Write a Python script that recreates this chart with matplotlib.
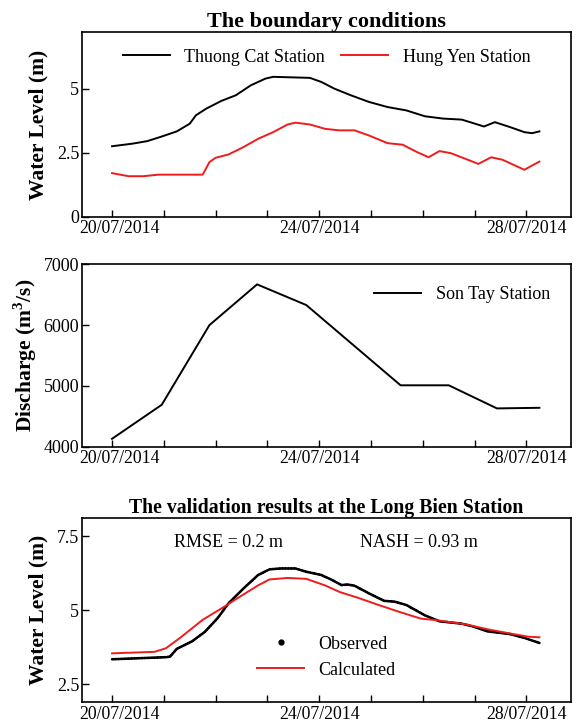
import matplotlib
matplotlib.use('Agg')
import matplotlib.pyplot as plt
import matplotlib.transforms as mtransforms
from matplotlib.lines import Line2D
import numpy as np

plt.rcParams['font.family'] = ['Liberation Serif', 'DejaVu Serif']
plt.rcParams['mathtext.fontset'] = 'custom'
plt.rcParams['mathtext.rm'] = 'Liberation Serif'
plt.rcParams['mathtext.bf'] = 'Liberation Serif:bold'

# x values are days after 20/07/2014 00:00
date_ticks = [0, 4, 8]
date_labels = ['20/07/2014', '24/07/2014', '28/07/2014']

# boundary conditions - water level (m)
tc_day = [0, 0.39, 0.68, 0.96, 1.25, 1.5, 1.62, 1.82, 2.11, 2.39, 2.68, 2.96, 3.11,
          3.82, 4.04, 4.29, 4.61, 4.96, 5.32, 5.68, 6.04, 6.39, 6.75, 6.96, 7.18,
          7.39, 7.68, 7.96, 8.11, 8.25]
tc_level = [2.75, 2.85, 2.95, 3.13, 3.33, 3.63, 3.96, 4.22, 4.52, 4.74, 5.13, 5.39, 5.46,
            5.42, 5.26, 5.0, 4.74, 4.48, 4.28, 4.15, 3.92, 3.83, 3.79, 3.66, 3.52,
            3.69, 3.5, 3.3, 3.26, 3.33]

hy_day = [0, 0.32, 0.61, 0.89, 1.75, 1.88, 2.0, 2.25, 2.54, 2.82, 3.11, 3.39, 3.54,
          3.82, 4.11, 4.39, 4.68, 4.96, 5.32, 5.61, 5.89, 6.11, 6.32, 6.54, 6.82,
          7.07, 7.32, 7.54, 7.96, 8.11, 8.25]
hy_level = [1.70, 1.58, 1.58, 1.64, 1.64, 2.13, 2.30, 2.43, 2.72, 3.04, 3.30, 3.60, 3.67,
            3.60, 3.43, 3.37, 3.37, 3.17, 2.87, 2.81, 2.52, 2.32, 2.56, 2.48, 2.26,
            2.06, 2.32, 2.22, 1.83, 2.0, 2.15]

# boundary conditions - discharge (m3/s)
st_day = [0, 0.96, 1.88, 2.8, 3.75, 5.57, 6.5, 7.43, 8.25]
st_q = [4130, 4690, 6000, 6670, 6330, 5010, 5010, 4630, 4640]

# validation at Long Bien
obs_day = [0, 1.04, 1.12, 1.25, 1.54, 1.79, 2.04, 2.25, 2.54, 2.82, 3.04, 3.25, 3.54,
           3.75, 4.04, 4.25, 4.43, 4.54, 4.68, 4.96, 5.25, 5.46, 5.68, 6.04, 6.32,
           6.75, 6.96, 7.25, 7.68, 7.96, 8.25]
obs_level = [3.35, 3.42, 3.44, 3.70, 3.95, 4.27, 4.74, 5.24, 5.74, 6.19, 6.38, 6.41, 6.41,
             6.30, 6.19, 6.02, 5.85, 5.87, 5.83, 5.57, 5.32, 5.29, 5.18, 4.83, 4.63,
             4.55, 4.46, 4.29, 4.20, 4.07, 3.90]

cal_day = [0, 0.82, 1.04, 1.32, 1.75, 2.11, 2.46, 2.82, 3.04, 3.39, 3.75, 4.11, 4.39,
           4.75, 5.11, 5.54, 5.96, 6.25, 6.82, 7.25, 7.68, 8.04, 8.25]
cal_level = [3.55, 3.60, 3.72, 4.08, 4.68, 5.06, 5.45, 5.84, 6.04, 6.09, 6.06, 5.84, 5.62,
             5.42, 5.20, 4.95, 4.72, 4.67, 4.53, 4.36, 4.22, 4.11, 4.09]

fig = plt.figure(figsize=(5.79, 7.22), dpi=100)
ax1 = fig.add_axes([0.1416, 0.6999, 0.8446, 0.2554])
ax2 = fig.add_axes([0.1416, 0.3813, 0.8446, 0.2526])
ax3 = fig.add_axes([0.1416, 0.0273, 0.8446, 0.2548])

shift = mtransforms.ScaledTranslation(7 / 100, 0, fig.dpi_scale_trans)
for ax in (ax1, ax2, ax3):
    ax.set_xlim(-0.58, 8.86)
    ax.set_xticks(date_ticks)
    ax.set_xticklabels(date_labels)
    ax.set_xticks(np.arange(0, 9), minor=True)
    ax.tick_params(which='both', direction='in', labelsize=13, width=1, length=5)
    ax.tick_params(axis='x', which='both', pad=2.5, labelsize=12.8)
    ax.tick_params(axis='y', which='both', pad=2)
    first = ax.get_xticklabels()[0]
    first.set_transform(first.get_transform() + shift)
    for s in ax.spines.values():
        s.set_linewidth(1.2)

# top panel
ax1.plot(tc_day, tc_level, color='black', lw=1.4, label='Thuong Cat Station')
ax1.plot(hy_day, hy_level, color='#ee1c1c', lw=1.4, label='Hung Yen Station')
ax1.set_ylim(0, 7.2)
ax1.set_yticks([0, 2.5, 5])
ax1.set_yticklabels(['0', '2.5', '5'])
ax1.set_ylabel('Water Level (m)', fontsize=15.5, fontweight='bold', labelpad=6)
ax1.set_title('The boundary conditions', fontsize=16, fontweight='bold', pad=4)
ax1.legend(loc='upper center', ncol=2, frameon=False, fontsize=13, handlelength=2.6,
           columnspacing=0.9, bbox_to_anchor=(0.5, 1.0))

# middle panel
ax2.plot(st_day, st_q, color='black', lw=1.4, label='Son Tay Station')
ax2.set_ylim(4000, 7000)
ax2.set_yticks([4000, 5000, 6000, 7000])
ax2.set_ylabel(r'Discharge (m$^\mathbf{3}$/s)', fontsize=15.5, fontweight='bold', labelpad=3)
ax2.legend(loc='upper right', frameon=False, fontsize=13, handlelength=2.6,
           bbox_to_anchor=(0.99, 0.97))

# bottom panel
ax3.plot(obs_day, obs_level, color='black', lw=1.9, ls=(0, (0.6, 0.5)), dash_capstyle='round')
ax3.plot(cal_day, cal_level, color='#ee1c1c', lw=1.4)
ax3.set_ylim(1.9, 8.1)
ax3.set_yticks([2.5, 5, 7.5])
ax3.set_yticklabels(['2.5', '5', '7.5'])
ax3.set_ylabel('Water Level (m)', fontsize=15.5, fontweight='bold', labelpad=6)
ax3.set_title('The validation results at the Long Bien Station', fontsize=14.2,
              fontweight='bold', pad=4)
ax3.text(0.30, 0.87, 'RMSE = 0.2 m', transform=ax3.transAxes, fontsize=13,
         ha='center', va='center')
ax3.text(0.69, 0.87, 'NASH = 0.93 m', transform=ax3.transAxes, fontsize=13,
         ha='center', va='center')
handles = [Line2D([], [], color='black', marker='o', ls='', ms=3.5),
           Line2D([], [], color='#ee1c1c', lw=1.4)]
ax3.legend(handles, ['Observed', 'Calculated'], loc='center', frameon=False, fontsize=13,
           handlelength=2.6, bbox_to_anchor=(0.50, 0.245))

fig.savefig('out.png', dpi=100)
